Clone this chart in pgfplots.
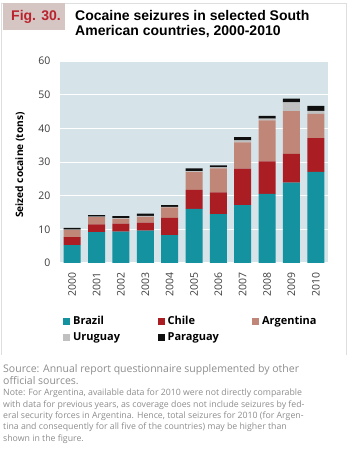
\documentclass[border=0pt]{standalone}
\usepackage{pgfplots}
\pgfplotsset{compat=1.18}
\usepackage{fontspec}
\setmainfont{Open Sans}
\newfontfamily\titlefont{Liberation Sans}
\definecolor{brazil}{RGB}{20,146,160}
\definecolor{chile}{RGB}{170,30,35}
\definecolor{argentina}{RGB}{192,135,120}
\definecolor{uruguay}{RGB}{192,192,192}
\definecolor{paraguay}{RGB}{15,15,15}
\definecolor{bgc}{RGB}{214,228,233}
\definecolor{figbox}{RGB}{213,198,195}
\definecolor{figred}{RGB}{185,35,45}
\definecolor{framec}{RGB}{222,222,222}
\definecolor{notegrey}{RGB}{140,140,140}
\definecolor{tickc}{RGB}{60,60,60}

\pgfplotstableread{
x Brazil Chile Argentina Uruguay Paraguay
0  5.3  2.4  2.1  0.1 0.5
1  9.2  2.3  2.1  0.2 0.4
2  9.3  2.4  1.4  0.2 0.6
3  9.6  2.4  1.7  0.3 0.7
4  8.3  5.1  3.1  0.2 0.5
5 16.1  5.6  5.3  0.3 0.8
6 14.5  6.5  7.1  0.3 0.6
7 17.2 10.8  7.8  0.6 1.0
8 20.5  9.7 12.2  0.5 0.8
9 23.9  8.5 12.7  2.6 1.1
10 27.1 10.0 7.2  0.9 1.5
}\datatable

\begin{document}
\begin{tikzpicture}
\useasboundingbox (0,0) rectangle (350pt,450pt);
% frame
\draw[framec, line width=0.8pt] (1pt,95pt) -- (1pt,447pt) -- (346.5pt,447pt) -- (346.5pt,95pt);
\fill[figbox] (3pt,420pt) rectangle (65pt,447pt);
\node[anchor=base west, inner sep=0pt, text=figred, font=\titlefont\bfseries\fontsize{14}{16}\selectfont] at (11pt,429.3pt) {Fig. 30.};
\node[anchor=base west, inner sep=0pt, font=\titlefont\bfseries\fontsize{14}{16}\selectfont] at (75pt,429.3pt) {Cocaine seizures in selected South};
\node[anchor=base west, inner sep=0pt, font=\titlefont\bfseries\fontsize{14}{16}\selectfont] at (75pt,414pt) {American countries, 2000-2010};

\begin{axis}[
  at={(60pt,187pt)}, anchor=south west,
  scale only axis, width=268pt, height=202pt,
  ybar stacked, bar width=17pt,
  xmin=-0.5, xmax=10.5, ymin=0, ymax=60,
  ytick={0,10,20,30,40,50,60},
  xtick={0,1,2,3,4,5,6,7,8,9,10},
  xticklabels={2000,2001,2002,2003,2004,2005,2006,2007,2008,2009,2010},
  xticklabel style={rotate=90, anchor=east},
  xticklabel shift=6pt,
  yticklabel style={xshift=-6pt},
  major tick length=0pt,
  axis line style={draw=none},
  axis background/.style={fill=bgc},
  ymajorgrids, grid style={white, line width=1pt},
  /pgf/number format/assume math mode=true,
  tick label style={font=\fontsize{10.5}{12}\selectfont, text=tickc},
  ylabel={Seized cocaine (tons)},
  every axis y label/.style={at={(axis description cs:-0.149,0.485)}, rotate=90, anchor=center, font=\bfseries\fontsize{10.2}{12}\selectfont},
  legend columns=3,
  legend cell align=left,
  legend style={at={(axis description cs:0.011,-0.252)}, anchor=north west, draw=none, fill=none, inner sep=0pt, row sep=3pt, font=\bfseries\fontsize{11}{12}\selectfont, /tikz/every odd column/.append style={column sep=1pt}},
  legend image code/.code={\draw[#1,draw=none] (0pt,-3.5pt) rectangle (7pt,3.5pt);},
]
\addplot[fill=brazil, draw=none] table[x=x, y=Brazil] {\datatable};
\addlegendentry{\makebox[82.5pt][l]{Brazil}}
\addplot[fill=chile, draw=none] table[x=x, y=Chile] {\datatable};
\addlegendentry{\makebox[82.5pt][l]{Chile}}
\addplot[fill=argentina, draw=none] table[x=x, y=Argentina] {\datatable};
\addlegendentry{\makebox[82.5pt][l]{Argentina}}
\addplot[fill=uruguay, draw=none] table[x=x, y=Uruguay] {\datatable};
\addlegendentry{\makebox[82.5pt][l]{Uruguay}}
\addplot[fill=paraguay, draw=none] table[x=x, y=Paraguay] {\datatable};
\addlegendentry{\makebox[82.5pt][l]{Paraguay}}
\end{axis}

\begin{scope}[every node/.style={anchor=base west, inner sep=0pt, text=notegrey}]
\node[font=\fontsize{10.5}{12}\selectfont] at (3pt,77.3pt) {Source: Annual report questionnaire supplemented by other};
\node[font=\fontsize{10.5}{12}\selectfont] at (3pt,65pt) {official sources.};
\node[font=\fontsize{8.75}{10}\selectfont] at (3pt,54pt) {Note: For Argentina, available data for 2010 were not directly comparable};
\node[font=\fontsize{8.75}{10}\selectfont] at (3pt,42.7pt) {with data for previous years, as coverage does not include seizures by fed-};
\node[font=\fontsize{8.75}{10}\selectfont] at (3pt,31.3pt) {eral security forces in Argentina. Hence, total seizures for 2010 (for Argen-};
\node[font=\fontsize{8.75}{10}\selectfont] at (3pt,20pt) {tina and consequently for all five of the countries) may be higher than};
\node[font=\fontsize{8.75}{10}\selectfont] at (3pt,9pt) {shown in the figure.};
\end{scope}
\end{tikzpicture}
\end{document}
